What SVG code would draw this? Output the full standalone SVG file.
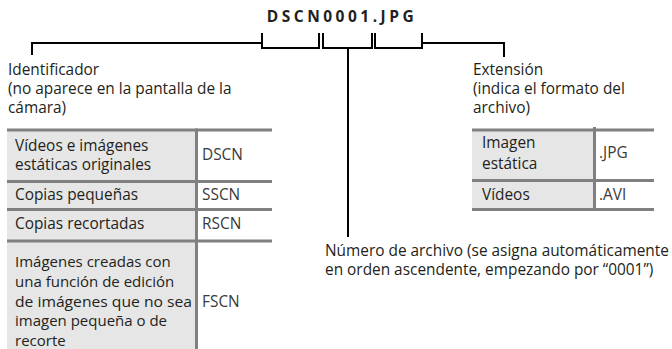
<svg xmlns="http://www.w3.org/2000/svg" width="672" height="349" viewBox="0 0 672 349">
<style>
.t{font-family:"Open Sans","Noto Sans","Liberation Sans",sans-serif;font-size:15.4px;fill:#231f20}
.v{font-family:"Open Sans","Noto Sans","Liberation Sans",sans-serif;font-size:15.4px;fill:#3a3a3a}
.s{font-family:"Open Sans","Noto Sans","Liberation Sans",sans-serif;font-size:15px;fill:#231f20}
.title{font-family:"Open Sans","Noto Sans","Liberation Sans",sans-serif;font-size:15.5px;font-weight:bold;letter-spacing:3.5px;fill:#231f20}
.ln{fill:none;stroke:#000;stroke-width:2}
.cell{fill:#e6e6e6}
.bd{fill:none;stroke:#808080;stroke-width:3}
</style>
<rect width="672" height="349" fill="#fff"/>
<text class="title" x="342" y="22" text-anchor="middle">DSCN0001.JPG</text>
<g id="connectors">
<path class="ln" d="M32,55 V43 H262"/>
<path class="ln" d="M262,33 V48 H319 V33"/>
<path class="ln" d="M323,33 V48 H372 V33"/>
<path class="ln" d="M348,48 V237"/>
<path class="ln" d="M375,33 V48 H422 V33"/>
<path class="ln" d="M422,43 H504 V57"/>
</g>
<g id="identificador">
<text class="t" x="8" y="75">Identificador</text>
<text class="t" x="8" y="94">(no aparece en la pantalla de la</text>
<text class="t" x="8" y="113">cámara)</text>
</g>
<g id="extension">
<text class="t" x="473" y="75">Extensión</text>
<text class="t" x="473" y="94">(indica el formato del</text>
<text class="t" x="473" y="113">archivo)</text>
</g>
<g id="numero">
<text class="t" x="325" y="256">Número de archivo (se asigna automáticamente</text>
<text class="t" x="325" y="275">en orden ascendente, empezando por “0001”)</text>
</g>
<g id="tabla-identificador">
<rect class="cell" x="7" y="130" width="188" height="220"/>
<line class="bd" x1="7" y1="130" x2="272" y2="130"/>
<line class="bd" x1="7" y1="181.5" x2="272" y2="181.5"/>
<line class="bd" x1="7" y1="209.5" x2="272" y2="209.5"/>
<line class="bd" x1="7" y1="241" x2="272" y2="241"/>
<line class="bd" x1="196.5" y1="128.5" x2="196.5" y2="349"/>
<text class="t" x="15" y="151">Vídeos e imágenes</text>
<text class="t" x="15" y="170">estáticas originales</text>
<text class="v" x="202" y="160">DSCN</text>
<text class="t" x="15" y="200">Copias pequeñas</text>
<text class="v" x="202" y="200">SSCN</text>
<text class="t" x="15" y="229">Copias recortadas</text>
<text class="v" x="202" y="229">RSCN</text>
<text class="s" x="15" y="267">Imágenes creadas con</text>
<text class="s" x="15" y="287">una función de edición</text>
<text class="s" x="15" y="307" textLength="177" lengthAdjust="spacingAndGlyphs">de imágenes que no sea</text>
<text class="s" x="15" y="326">imagen pequeña o de</text>
<text class="s" x="15" y="345.5">recorte</text>
<text class="v" x="202" y="307">FSCN</text>
</g>
<g id="tabla-extension">
<rect class="cell" x="472" y="130" width="121" height="80"/>
<line class="bd" x1="472" y1="130" x2="654" y2="130"/>
<line class="bd" x1="472" y1="180.5" x2="654" y2="180.5"/>
<line class="bd" x1="472" y1="209.5" x2="654" y2="209.5"/>
<line class="bd" x1="594.5" y1="127" x2="594.5" y2="208"/>
<text class="t" x="482" y="148">Imagen</text>
<text class="t" x="482" y="169">estática</text>
<text class="v" x="599" y="158">.JPG</text>
<text class="t" x="482" y="200">Vídeos</text>
<text class="v" x="599" y="200">.AVI</text>
</g>
</svg>
